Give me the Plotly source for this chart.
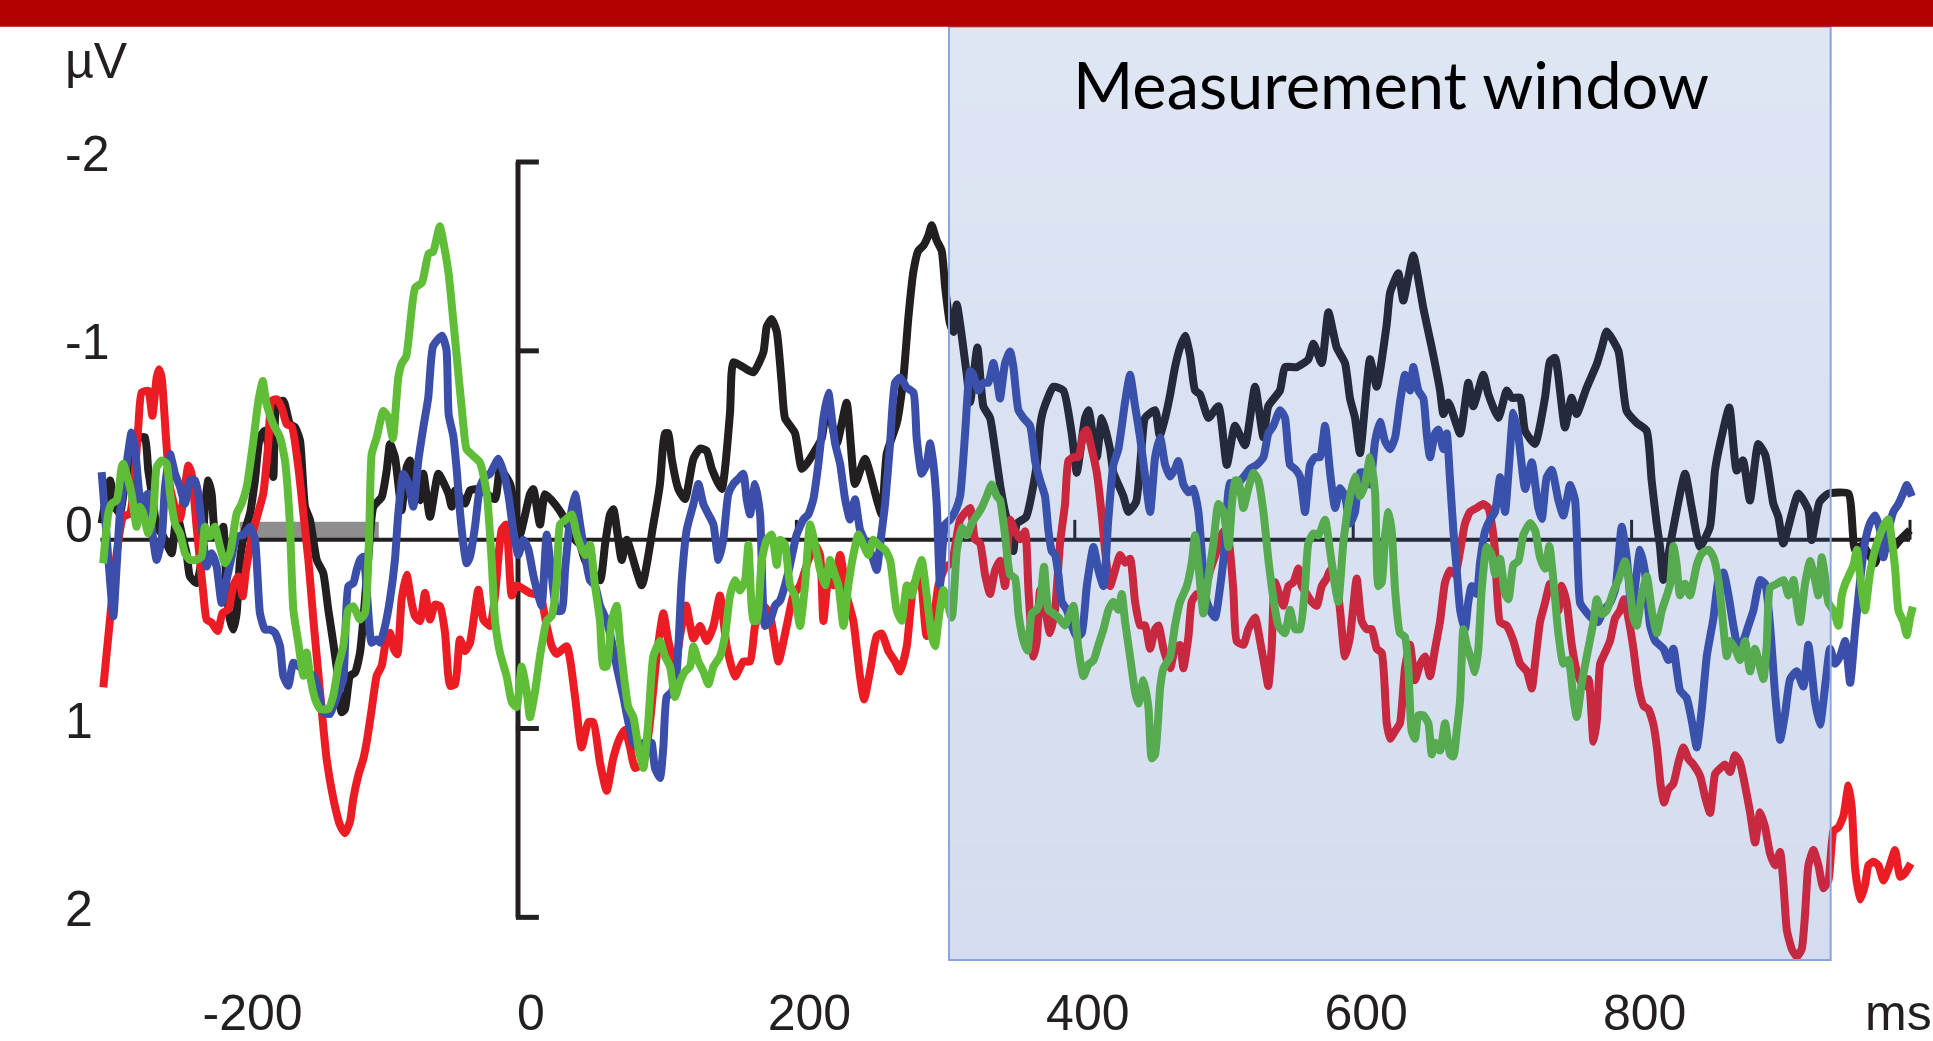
import plotly.graph_objects as go

# ---------------- data: time (ms), amplitude (µV, negative plotted up) ----------------
BLACK = [(-299.1,-0.086),(-293.1,-0.314),(-289.5,-0.174),(-286.0,-0.139),(-282.4,-0.296),(-278.8,-0.402),(-271.6,-0.542),(-268.0,-0.542),(-265.6,-0.367),(-262.0,-0.191),(-259.6,-0.068),(-256.0,-0.033),(-252.4,0.020),(-248.8,0.072),(-245.2,-0.139),(-241.6,-0.033),(-238.1,0.072),(-235.7,0.195),(-230.9,0.230),(-227.3,0.107),(-224.9,-0.174),(-222.5,-0.314),(-220.1,-0.244),(-217.7,-0.033),(-214.1,0.002),(-211.7,-0.068),(-209.3,0.265),(-206.9,0.423),(-204.5,0.476),(-202.1,0.388),(-199.7,0.107),(-196.1,-0.051),(-192.5,-0.139),(-189.0,-0.314),(-185.4,-0.542),(-181.8,-0.577),(-178.2,-0.437),(-175.8,-0.332),(-173.4,-0.717),(-168.6,-0.735),(-163.8,-0.612),(-160.2,-0.595),(-156.6,-0.525),(-153.0,-0.174),(-149.4,-0.103),(-144.6,0.107),(-139.9,0.177),(-136.3,0.370),(-132.7,0.546),(-129.1,0.739),(-126.7,0.914),(-124.3,0.897),(-120.7,0.721),(-117.1,0.704),(-113.5,0.598),(-111.1,0.423),(-107.5,0.090),(-103.9,-0.174),(-97.9,-0.226),(-94.3,-0.367),(-91.9,-0.507),(-88.4,-0.437),(-86.0,-0.296),(-83.6,-0.156),(-80.0,-0.384),(-77.6,-0.419),(-74.0,-0.279),(-70.4,-0.209),(-68.0,-0.349),(-63.2,-0.121),(-57.2,-0.349),(-50.0,-0.244),(-47.6,-0.174),(-45.2,-0.261),(-38.1,-0.191),(-34.5,-0.261),
    (-27.3,-0.268),(-16.5,-0.215),(-12.9,-0.375),(-5.7,-0.295),(-2.2,-0.161),(1.4,-0.027),(8.6,-0.241),(11.0,-0.268),(15.8,-0.080),(19.4,-0.241),(26.6,-0.188),(33.8,-0.107),(41.0,0.000),(44.6,0.027),(48.1,0.108),(58.9,0.215),(62.5,0.027),(66.1,-0.134),(68.5,-0.161),(74.5,0.108),(78.1,0.000),(88.9,0.242),(97.2,-0.080),(102.0,-0.295),(105.6,-0.563),(108.0,-0.563),(110.4,-0.429),(115.2,-0.268),(120.0,-0.215),(126.0,-0.429),(130.8,-0.483),(135.6,-0.470),(139.2,-0.376),(146.3,-0.268),(152.3,-0.671),(154.7,-0.940),(161.9,-0.913),(169.1,-0.886),(176.3,-0.993),(178.7,-1.128),(182.3,-1.168),(185.9,-1.101),(189.4,-0.832),(191.8,-0.644),(199.0,-0.564),(203.8,-0.375),(207.4,-0.402),(218.2,-0.537),(221.8,-0.725),(229.0,-0.510),(236.1,-0.725),(242.1,-0.295),(249.3,-0.429),(257.7,-0.215),(261.3,-0.134),(264.9,-0.456),(272.1,-0.617),(276.9,-0.859),(280.5,-1.181),(284.1,-1.423),(287.6,-1.530),(291.2,-1.557),(294.8,-1.611),(297.2,-1.665),(300.8,-1.584),(304.4,-1.530),(306.8,-1.342),
    (310.4,-1.142),(312.8,-1.100),(315.2,-1.246),(322.4,-0.873),(324.8,-0.728),(330.0,-1.018),(334.3,-0.707),(339.1,-0.645),(342.7,-0.479),(346.3,-0.292),(349.9,-0.147),(353.5,-0.044),(355.9,0.060),(358.3,-0.085),(365.0,-0.120),(372.7,-0.396),(375.1,-0.603),(377.4,-0.686),(384.6,-0.810),(391.8,-0.790),(397.8,-0.562),(401.4,-0.355),(407.4,-0.645),(409.8,-0.686),(415.8,-0.437),(419.4,-0.645),(425.3,-0.479),(427.7,-0.355),(431.3,-0.292),(434.9,-0.230),(438.5,-0.147),(444.0,-0.200),(448.1,-0.500),(450.5,-0.645),(457.7,-0.686),(461.0,-0.550),(464.9,-0.645),(468.5,-0.769),(472.0,-0.914),(475.6,-1.018),(479.2,-1.080),(482.8,-0.976),(486.4,-0.790),(490.0,-0.769),(496.0,-0.645),(503.2,-0.707),(509.2,-0.396),
    (515.1,-0.603),(522.3,-0.500),(529.5,-0.810),(535.5,-0.541),(539.0,-0.707),(547.4,-0.790),(551.0,-0.914),(559.4,-0.914),(567.8,-0.955),(571.4,-1.038),(577.4,-0.935),(582.2,-1.204),(588.1,-1.018),(594.1,-0.935),(597.7,-0.748),(601.3,-0.645),(604.9,-0.458),(612.1,-0.955),(616.9,-0.810),(624.1,-1.142),(626.5,-1.308),(632.4,-1.411),(636.0,-1.266),(639.6,-1.391),(643.2,-1.505),(650.4,-1.225),(656.4,-1.018),(662.4,-0.790),(664.8,-0.665),(668.4,-0.727),(676.8,-0.562),(682.7,-0.831),(686.3,-0.707),(693.5,-0.873),(697.1,-0.770),(704.3,-0.645),(710.3,-0.790),(714.0,-0.750),
    (719.8,-0.752),(723.4,-0.577),(730.6,-0.507),(737.8,-0.752),(741.4,-0.945),(745.0,-0.963),(752.1,-0.594),(756.9,-0.752),(760.5,-0.665),(767.7,-0.805),(774.9,-0.928),(778.5,-1.016),(782.1,-1.103),(790.5,-1.000),(796.4,-0.682),(803.5,-0.620),(810.8,-0.577),(814.4,-0.314),(818.0,-0.086),(820.4,0.037),(822.8,0.213),(828.8,-0.016),(838.4,-0.349),(843.1,-0.173),(849.1,0.037),(856.3,-0.068),(859.9,-0.366),(863.5,-0.507),(870.2,-0.700),(875.5,-0.366),(880.0,-0.420),(885.0,-0.208),(891.0,-0.507),(896.0,-0.450),(901.8,-0.191),(905.4,-0.121),(909.0,0.020),(919.8,-0.244),(927.0,-0.156),(929.4,0.002),(935.0,-0.200),(941.3,-0.244),(955.7,-0.244),(960.5,0.055),(966.0,0.030),(974.9,0.125),(980.0,-0.020),(987.0,0.050),(993.0,0.000),(1000.0,-0.051)]

RED = [(-297.9,0.782),(-293.6,0.458),(-288.8,0.100),(-283.6,-0.121),(-278.8,-0.139),(-272.8,-0.595),(-270.4,-0.779),(-265.6,-0.788),(-262.7,-0.656),(-259.6,-0.858),(-257.9,-0.902),(-256.0,-0.858),(-252.9,-0.542),(-250.0,-0.279),(-245.2,-0.139),(-242.8,-0.112),(-236.8,-0.393),(-234.5,-0.349),(-230.9,-0.068),(-226.1,0.282),(-223.7,0.423),(-220.1,0.440),(-215.8,0.484),(-212.2,0.388),(-208.1,0.370),(-204.5,0.247),(-200.9,0.195),(-197.8,0.300),(-195.4,0.160),(-190.1,-0.051),(-183.0,-0.244),(-179.4,-0.507),(-177.0,-0.735),(-173.4,-0.744),(-169.8,-0.700),(-166.2,-0.612),(-162.6,-0.600),(-157.8,-0.384),(-154.2,-0.139),(-150.6,0.107),(-147.0,0.423),(-142.2,0.809),(-137.5,1.160),(-132.7,1.370),(-127.9,1.511),(-124.3,1.554),(-120.7,1.493),(-118.3,1.370),(-114.7,1.247),(-111.1,1.160),(-108.7,1.072),(-105.1,0.897),(-101.5,0.721),(-97.9,0.668),(-95.5,0.563),(-92.0,0.493),(-89.1,0.581),(-86.7,0.607),(-83.6,0.318),(-80.0,0.186),(-76.4,0.335),(-74.0,0.405),(-70.4,0.432),(-66.8,0.282),(-63.2,0.423),(-59.6,0.344),(-56.0,0.353),(-52.4,0.493),(-48.8,0.774),(-45.2,0.765),(-41.7,0.528),(-38.1,0.590),(-34.5,0.546),(-28.5,0.265),(-24.9,0.423),
    (-20.1,0.457),(-16.5,0.296),(-11.7,-0.053),(-8.6,-0.080),(-4.5,0.296),(-1.0,0.242),(8.6,0.282),(15.8,0.296),(20.6,0.457),(24.2,0.564),(27.8,0.605),(35.0,0.564),(41.0,0.833),(45.7,1.101),(50.5,0.967),(54.1,0.967),(58.9,1.182),(63.7,1.330),(68.5,1.155),(73.3,1.048),(76.9,1.007),(80.5,1.101),(84.1,1.209),(90.1,1.182),(94.8,0.967),(99.6,0.618),(104.4,0.390),(108.0,0.537),(112.8,0.672),(116.4,0.510),(120.7,0.349),(126.0,0.524),(130.8,0.457),(135.6,0.537),(140.4,0.457),(145.1,0.296),(149.9,0.564),(155.9,0.725),(161.9,0.645),(166.7,0.645),(170.3,0.457),(176.3,0.349),(181.1,0.403),(187.1,0.645),(193.0,0.457),(197.8,0.296),(202.6,0.242),(208.6,0.108),(213.4,0.027),(217.0,0.081),(219.4,0.430),(223.0,0.215),(226.6,0.242),(231.4,0.081),(236.1,0.296),(240.9,0.430),(245.7,0.725),(248.6,0.846),(252.9,0.698),(257.7,0.510),(261.3,0.497),(266.1,0.591),(270.9,0.645),(274.5,0.698),(279.3,0.564),(284.1,0.242),(288.8,0.188),(293.6,0.510),(298.4,0.430),(302.0,0.242),(306.8,0.148),
    (311.6,0.122),(317.6,-0.106),(324.8,-0.168),(328.3,-0.002),(331.9,0.018),(335.5,0.184),(339.1,0.288),(342.7,0.163),(346.3,0.112),(349.9,0.246),(353.5,-0.106),(357.1,-0.044),(360.7,-0.002),(364.3,-0.044),(366.7,0.267),(370.3,0.619),(372.7,0.537),(375.1,0.267),(378.6,0.371),(382.2,0.495),(385.8,0.371),(389.4,0.018),(393.0,-0.189),(395.4,-0.417),(399.0,-0.437),(402.6,-0.437),(406.2,-0.562),(408.6,-0.582),(412.2,-0.479),(415.8,-0.355),(419.4,-0.127),(421.8,0.060),(425.3,0.246),(428.9,0.163),(432.5,0.081),(436.1,0.122),(439.7,0.101),(443.3,0.329),(446.9,0.454),(450.5,0.454),(454.1,0.578),(457.7,0.474),(460.1,0.454),(463.7,0.578),(468.5,0.681),(472.0,0.578),(475.6,0.557),(478.0,0.681),(481.6,0.516),(484.0,0.329),(487.6,0.288),(492.4,0.288),(497.2,0.163),(502.0,0.060),(506.8,-0.044),(510.0,-0.020),
    (513.9,0.267),(516.3,0.537),(521.1,0.557),(524.7,0.474),(529.5,0.412),(533.1,0.537),(536.6,0.681),(539.0,0.775),(541.4,0.578),(543.8,0.226),(549.8,0.350),(553.4,0.246),(557.0,0.226),(560.6,0.153),(563.0,0.246),(566.6,0.288),(570.2,0.329),(573.8,0.350),(577.4,0.246),(581.0,0.205),(583.4,0.163),(587.0,0.184),(590.5,0.371),(594.1,0.619),(597.7,0.516),(602.5,0.205),(606.1,0.433),(609.7,0.474),(613.3,0.474),(616.9,0.578),(620.5,0.599),(624.1,0.972),(626.5,1.054),(630.1,1.013),(633.6,0.972),(637.2,0.681),(640.8,0.557),(644.4,0.744),(648.0,0.661),(651.6,0.619),(655.2,0.723),(658.8,0.578),(662.4,0.433),(666.0,0.226),(669.6,0.163),(673.2,0.184),(676.8,0.060),(680.3,-0.085),(683.9,-0.147),(688.7,-0.168),(693.5,-0.189),(697.1,-0.168),(699.5,-0.085),(701.9,0.060),
    (705.5,0.436),(710.3,0.456),(715.1,0.536),(719.9,0.657),(724.7,0.697),(728.3,0.788),(730.6,0.657),(734.2,0.436),(737.8,0.335),(741.4,0.234),(745.0,0.295),(747.4,0.375),(749.8,0.244),(753.4,0.335),(757.0,0.557),(760.6,0.697),(765.4,0.778),(769.0,0.738),(772.6,1.070),(775.0,0.959),(777.4,0.657),(781.0,0.597),(784.5,0.536),(788.1,0.416),(791.7,0.375),(794.6,0.315),(797.7,0.416),(801.3,0.577),(804.9,0.778),(808.5,0.879),(812.1,0.899),(815.7,0.980),(818.5,1.120),(820.9,1.302),(823.3,1.392),(826.4,1.322),(830.0,1.292),(833.6,1.181),(837.2,1.100),(840.8,1.161),(844.4,1.191),(849.2,1.251),(852.8,1.362),(856.4,1.447),(860.0,1.241),(863.6,1.211),(867.2,1.191),(870.8,1.231),(874.3,1.141),(877.9,1.181),(881.5,1.302),(885.1,1.443),(888.7,1.604),(892.3,1.443),(895.9,1.523),(899.5,1.664),(903.1,1.725),(906.7,1.654),(909.1,1.825),(911.5,2.067),(915.1,2.168),(918.7,2.208),(922.2,2.168),(924.6,1.986),(927.0,1.725),(930.6,1.644),(934.2,1.725),(937.8,1.846),(941.4,1.805),(945.0,1.543),(948.6,1.523),(952.2,1.463),(955.8,1.302),(958.2,1.423),(960.6,1.745),(964.2,1.906),(967.8,1.825),(970.1,1.725),(973.7,1.705),(977.3,1.725),(980.9,1.805),(984.5,1.745),(989.3,1.644),(992.9,1.785),(996.5,1.765),(1000.6,1.715)]

BLUE = [(-299.1,-0.358),(-294.3,0.100),(-290.7,0.405),(-288.4,0.150),(-286.0,-0.139),(-282.4,-0.332),(-277.6,-0.568),(-275.2,-0.490),(-272.8,-0.296),(-270.4,-0.139),(-268.0,-0.226),(-265.6,-0.244),(-263.2,-0.068),(-259.6,0.107),(-256.0,0.000),(-253.6,-0.279),(-250.0,-0.454),(-246.4,-0.349),(-242.8,-0.279),(-239.2,-0.191),(-235.7,-0.314),(-232.0,-0.314),(-229.7,-0.244),(-226.1,0.000),(-223.7,0.142),(-220.1,0.072),(-216.5,0.142),(-212.9,0.335),(-209.3,0.212),(-205.7,0.090),(-202.1,-0.016),(-197.3,-0.025),(-192.5,-0.068),(-188.9,0.002),(-185.4,0.388),(-181.8,0.476),(-178.2,0.476),(-174.6,0.493),(-171.0,0.563),(-168.6,0.721),(-165.0,0.774),(-161.4,0.651),(-157.8,0.668),(-154.2,0.686),(-150.6,0.704),(-147.0,0.721),(-143.4,0.791),(-139.9,0.914),(-135.1,0.923),(-129.1,0.809),(-125.5,0.739),(-121.9,0.247),(-118.3,0.230),(-115.9,0.160),(-113.5,0.107),(-111.1,0.090),(-108.2,0.318),(-105.1,0.546),(-101.5,0.528),(-99.1,0.546),(-95.5,0.458),(-92.0,0.318),(-88.4,0.107),(-86.0,-0.139),(-82.4,-0.349),(-78.8,-0.296),(-75.2,-0.174),(-71.6,-0.419),(-68.0,-0.595),(-64.5,-0.750),(-61.0,-1.025),(-54.6,-1.080),(-51.4,-1.007),(-49.8,-0.662),(-46.5,-0.550),(-44.0,-0.367),(-41.7,-0.150),(-39.3,0.019),(-36.9,0.125),(-34.5,0.090),(-30.9,-0.068),(-27.3,-0.279),(-24.0,-0.330),
    (-20.1,-0.349),(-14.1,-0.429),(-10.5,-0.360),(-7.0,-0.241),(-3.4,-0.050),(0.2,0.081),(3.8,0.000),(7.4,0.050),(11.0,0.188),(14.6,0.296),(17.0,0.349),(20.6,-0.027),(24.2,0.188),(27.8,0.376),(31.4,0.376),(33.8,0.161),(37.4,-0.107),(41.0,-0.241),(44.6,-0.080),(48.1,0.081),(51.7,0.215),(55.3,0.242),(58.9,0.349),(63.7,0.430),(67.3,0.537),(70.9,0.672),(75.7,0.833),(79.3,0.967),(82.9,1.075),(86.5,1.101),(90.1,1.075),(93.6,1.128),(96.0,1.075),(98.4,1.209),(102.0,1.262),(104.4,1.101),(106.8,0.833),(110.4,0.806),(114.0,0.698),(117.6,0.215),(121.2,-0.053),(126.0,-0.188),(129.6,-0.295),(133.2,-0.188),(136.8,-0.134),(140.4,-0.080),(144.0,0.108),(147.5,0.000),(151.1,-0.241),(154.7,-0.295),(158.3,-0.322),(161.9,-0.349),(164.3,-0.214),(166.7,-0.134),(170.3,-0.295),(173.9,-0.134),(177.5,0.457),(181.1,0.430),(184.7,0.349),(188.3,0.322),(191.8,0.242),(195.4,0.134),(200.2,-0.027),(205.0,-0.107),(208.6,-0.134),(212.2,-0.215),(215.8,-0.402),(219.4,-0.644),(223.0,-0.778),(225.4,-0.644),(227.8,-0.510),(231.4,-0.402),(235.0,-0.214),(238.5,-0.107),(242.1,-0.214),(245.7,-0.053),(250.5,0.027),(254.1,0.081),(257.7,0.161),(260.1,0.027),(263.7,-0.188),(267.3,-0.510),(270.9,-0.832),(274.5,-0.859),(279.3,-0.805),(284.1,-0.778),(286.4,-0.537),(290.0,-0.349),(293.6,-0.402),(296.0,-0.510),(298.4,-0.402),(300.8,-0.188),(303.2,0.242),(306.8,-0.080),
    (310.4,-0.106),(314.0,-0.150),(317.6,-0.230),(321.2,-0.562),(324.8,-0.893),(327.2,-0.872),(330.7,-0.790),(334.3,-0.831),(337.9,-0.831),(341.5,-0.935),(344.4,-0.831),(346.3,-0.748),(349.9,-0.935),(353.5,-0.997),(355.9,-0.914),(359.5,-0.686),(363.1,-0.645),(367.9,-0.603),(371.5,-0.417),(375.1,-0.313),(378.6,-0.230),(381.0,-0.050),(383.4,0.060),(385.8,0.080),(388.2,0.184),(390.6,0.329),(394.2,0.371),(397.8,0.454),(401.4,0.516),(405.0,0.495),(408.6,0.246),(413.4,0.039),(417.0,0.163),(420.6,0.246),(424.0,-0.100),(427.7,-0.396),(431.3,-0.479),(436.1,-0.728),(439.7,-0.873),(443.3,-0.707),(446.9,-0.541),(450.5,-0.334),(454.1,-0.147),(457.7,-0.437),(461.3,-0.541),(464.9,-0.396),(468.5,-0.334),(472.0,-0.375),(474.4,-0.417),(478.0,-0.292),(481.6,-0.251),(485.2,-0.270),(488.8,-0.147),(492.4,0.184),(494.8,0.329),(498.4,0.391),(500.8,0.412),(504.4,0.250),(508.0,0.018),
    (511.5,-0.300),(516.3,-0.292),(521.0,-0.330),(525.9,-0.375),(530.7,-0.396),(535.5,-0.437),(539.0,-0.562),(542.6,-0.603),(547.4,-0.686),(551.0,-0.645),(554.6,-0.396),(558.2,-0.375),(561.8,-0.334),(565.4,-0.147),(569.0,-0.396),(572.6,-0.437),(576.2,-0.437),(579.8,-0.603),(583.4,-0.355),(587.0,-0.168),(590.5,-0.272),(594.1,-0.230),(597.7,-0.085),(601.3,-0.147),(604.9,-0.355),(608.5,-0.355),(612.1,-0.292),(615.7,-0.520),(619.3,-0.624),(622.9,-0.520),(626.5,-0.479),(630.1,-0.541),(633.6,-0.727),(637.2,-0.873),(640.8,-0.790),(643.2,-0.914),(646.8,-0.790),(650.4,-0.748),(652.8,-0.562),(655.2,-0.437),(658.8,-0.562),(661.2,-0.583),(664.8,-0.479),(667.2,-0.562),(669.6,-0.313),(672.0,-0.044),(674.4,0.163),(676.8,0.371),(680.3,0.474),(682.7,0.329),(685.1,0.246),(688.7,0.288),(691.1,0.122),(694.7,-0.044),(698.3,-0.106),(701.9,-0.147),
    (705.5,-0.330),(709.1,-0.147),(712.0,-0.400),(715.1,-0.672),(718.7,-0.550),(723.5,-0.269),(728.3,-0.410),(733.0,-0.168),(735.5,-0.110),(739.0,-0.330),(742.6,-0.370),(747.4,-0.209),(751.0,-0.128),(755.8,-0.289),(759.4,-0.209),(763.0,0.335),(766.6,0.375),(771.4,0.416),(776.0,0.436),(779.7,0.375),(784.5,0.335),(788.5,0.255),(792.9,-0.068),(796.5,0.093),(800.1,0.375),(803.7,0.174),(806.1,0.053),(809.7,0.174),(813.3,0.456),(816.9,0.536),(822.9,0.577),(826.4,0.637),(830.0,0.577),(834.8,0.798),(839.6,0.839),(843.2,0.959),(846.8,1.100),(850.4,0.899),(854.0,0.617),(858.8,0.416),(862.4,0.214),(865.9,0.174),(869.6,0.295),(873.1,0.456),(876.7,0.577),(880.3,0.536),(883.9,0.456),(887.5,0.375),(892.3,0.214),(895.9,0.234),(899.5,0.456),(903.1,0.818),(906.7,1.060),(910.3,0.919),(913.9,0.738),(918.6,0.697),(923.4,0.778),(927.0,0.557),(931.8,0.859),(935.4,0.980),(939.0,0.778),(942.6,0.577),(946.2,0.657),(949.8,0.617),(953.4,0.537),(957.0,0.758),(960.6,0.476),(964.2,0.214),(967.7,0.013),(971.3,-0.088),(974.9,-0.128),(978.5,-0.050),(980.9,0.093),(984.5,-0.048),(988.1,-0.148),(991.7,-0.189),(995.3,-0.249),(997.7,-0.289),(1001.3,-0.229)]

GREEN = [(-298.0,0.125),(-294.3,-0.139),(-291.9,-0.191),(-288.3,-0.209),(-284.7,-0.384),(-283.6,-0.402),(-280.0,-0.314),(-277.6,-0.244),(-274.0,-0.068),(-271.6,-0.174),(-269.2,-0.139),(-265.6,-0.033),(-262.0,-0.139),(-259.6,-0.384),(-256.0,-0.419),(-252.4,-0.402),(-250.0,-0.244),(-246.4,-0.086),(-242.8,-0.033),(-239.2,0.072),(-235.7,0.107),(-230.9,0.107),(-227.3,0.090),(-224.9,-0.068),(-221.3,-0.016),(-217.7,-0.068),(-214.1,0.037),(-210.5,0.125),(-206.9,0.072),(-202.1,-0.139),(-198.5,-0.191),(-194.9,-0.279),(-190.1,-0.525),(-186.5,-0.735),(-183.4,-0.840),(-180.6,-0.717),(-175.8,-0.612),(-171.0,-0.542),(-167.4,-0.419),(-164.0,-0.100),(-161.4,0.370),(-157.8,0.546),(-154.2,0.721),(-151.8,0.598),(-149.4,0.721),(-145.8,0.844),(-142.2,0.897),(-136.3,0.897),(-132.7,0.826),(-129.1,0.668),(-125.5,0.563),(-121.9,0.370),(-118.3,0.353),(-113.5,0.423),(-109.9,0.388),(-107.0,0.000),(-105.1,-0.454),(-101.5,-0.542),(-96.7,-0.682),(-93.1,-0.647),(-89.9,-0.535),(-86.0,-0.860),(-83.5,-0.934),(-80.3,-0.970),(-73.9,-1.334),(-69.0,-1.361),(-64.2,-1.515),(-61.0,-1.524),(-56.2,-1.660),(-53.0,-1.551),(-49.8,-1.406),(-45.0,-1.043),(-40.2,-0.680),(-37.0,-0.480),(-32.2,-0.444),(-27.3,-0.408),(-22.5,-0.250),
    (-19.0,0.100),(-16.5,0.430),(-12.9,0.600),(-8.1,0.725),(-4.5,0.860),(-1.0,0.887),(2.6,0.672),(6.2,0.800),(8.6,0.940),(12.2,0.806),(15.8,0.618),(20.6,0.430),(24.2,0.403),(27.8,0.215),(30.2,-0.080),(34.4,-0.107),(38.6,-0.134),(42.2,-0.027),(44.6,0.027),(48.1,0.081),(51.7,0.027),(55.3,0.242),(58.9,0.430),(61.3,0.672),(63.7,0.672),(67.3,0.430),(70.9,0.350),(73.3,0.537),(75.7,0.699),(79.3,0.887),(82.9,0.940),(86.5,1.101),(90.1,1.209),(93.6,0.967),(97.2,0.618),(102.0,0.537),(105.6,0.618),(109.2,0.672),(112.8,0.833),(116.4,0.752),(120.0,0.698),(123.6,0.672),(126.0,0.564),(129.6,0.645),(133.2,0.699),(136.8,0.766),(140.4,0.672),(145.1,0.618),(148.7,0.510),(152.3,0.296),(155.9,0.215),(159.5,0.269),(163.1,0.215),(165.5,0.027),(169.1,0.430),(171.5,0.430),(175.1,0.108),(178.7,0.000),(182.3,-0.027),(185.9,0.134),(188.3,0.000),(191.8,0.027),(195.4,0.242),(198.9,0.296),(202.6,0.457),(206.2,0.242),(209.8,-0.080),(213.4,0.027),(217.0,0.161),(220.6,0.242),(224.2,0.108),(226.6,0.161),(230.2,0.242),(233.8,0.457),(237.3,0.242),(240.9,0.081),(244.5,-0.027),(248.1,0.027),(251.7,0.081),(255.3,0.000),(258.9,0.027),(263.7,0.054),(267.3,0.108),(272.1,0.376),(275.7,0.430),(279.3,0.242),(282.8,0.296),(286.4,0.188),(290.0,0.108),(293.6,0.296),(297.2,0.510),(299.6,0.564),(302.0,0.430),(305.6,0.267),
    (311.6,0.412),(315.2,0.060),(318.8,-0.064),(322.4,-0.023),(326.0,-0.085),(329.5,-0.127),(333.1,-0.168),(336.7,-0.230),(340.3,-0.292),(343.9,-0.230),(346.3,-0.209),(349.9,-0.023),(353.5,0.184),(357.1,0.205),(359.5,0.391),(363.1,0.536),(366.0,0.588),(369.1,0.391),(372.7,0.371),(375.1,0.329),(377.9,0.143),(381.0,0.371),(384.6,0.391),(388.2,0.412),(393.0,0.454),(395.4,0.412),(399.0,0.350),(402.6,0.578),(406.2,0.723),(409.8,0.661),(413.4,0.640),(417.0,0.557),(420.6,0.474),(424.2,0.371),(427.7,0.329),(431.3,0.371),(433.7,0.288),(436.1,0.433),(439.7,0.619),(443.3,0.806),(445.7,0.868),(449.3,0.744),(452.9,0.889),(455.3,1.158),(457.7,1.137),(461.3,0.785),(463.7,0.681),(468.5,0.619),(472.0,0.454),(475.6,0.329),(480.4,0.247),(484.0,0.122),(486.4,-0.023),(489.0,0.150),(492.4,0.391),(496.0,0.200),(499.6,0.018),(503.2,-0.189),(506.8,-0.150),(510.4,0.039),
    (513.0,-0.200),(515.1,-0.313),(517.5,-0.313),(521.1,-0.168),(524.7,-0.272),(528.3,-0.355),(531.9,-0.313),(535.5,-0.147),(539.0,0.101),(542.6,0.308),(546.2,0.454),(551.0,0.495),(554.6,0.371),(558.2,0.474),(561.8,0.474),(565.4,0.246),(567.8,0.018),(571.4,-0.033),(575.0,-0.023),(579.8,-0.106),(583.4,0.060),(587.0,0.246),(589.3,0.329),(592.9,0.018),(597.7,-0.230),(601.3,-0.334),(604.9,-0.230),(608.5,-0.292),(612.1,-0.437),(615.7,-0.250),(618.1,0.246),(620.5,0.226),(622.9,-0.023),(625.3,-0.147),(627.7,-0.044),(630.1,0.267),(633.6,0.495),(637.2,0.516),(639.6,0.681),(642.0,1.013),(644.4,1.054),(646.8,0.930),(650.4,0.930),(654.0,0.972),(656.4,1.137),(658.8,1.075),(662.4,1.117),(666.0,0.972),(669.6,1.137),(672.0,1.148),(674.4,1.013),(676.8,0.847),(679.1,0.474),(681.5,0.557),(685.1,0.640),(687.5,0.702),(689.9,0.578),(692.3,0.267),(695.9,0.039),(699.5,0.081),(701.9,0.184),(705.5,0.101),(709.1,0.288),
    (711.5,0.315),(715.1,0.134),(718.7,0.113),(722.3,-0.027),(727.1,-0.088),(730.7,-0.048),(734.2,0.093),(737.8,0.154),(740.9,0.033),(743.8,0.214),(747.4,0.496),(751.0,0.657),(754.6,0.637),(758.2,0.839),(760.6,0.939),(764.2,0.758),(767.8,0.617),(772.6,0.436),(775.0,0.315),(778.6,0.395),(782.1,0.375),(786.9,0.275),(790.5,0.214),(795.3,0.114),(797.7,0.194),(801.3,0.416),(803.7,0.456),(807.3,0.295),(810.9,0.194),(814.5,0.375),(818.1,0.496),(821.7,0.375),(825.3,0.295),(827.7,0.234),(830.0,0.033),(832.4,0.134),(834.8,0.295),(838.4,0.234),(842.0,0.295),(846.8,0.134),(850.4,0.073),(855.2,0.053),(858.8,0.093),(862.4,0.214),(864.8,0.375),(868.4,0.617),(870.8,0.536),(874.3,0.577),(877.9,0.637),(881.5,0.536),(885.1,0.697),(888.7,0.577),(891.1,0.637),(894.7,0.738),(897.1,0.557),(899.5,0.254),(904.3,0.234),(909.1,0.214),(912.7,0.295),(916.3,0.214),(918.7,0.335),(921.0,0.436),(924.6,0.234),(928.2,0.113),(931.8,0.214),(934.2,0.295),(936.6,0.093),(939.0,0.200),(941.4,0.335),(945.0,0.375),(948.6,0.456),(951.0,0.295),(953.4,0.234),(955.8,0.194),(959.4,0.134),(961.8,0.053),(964.2,0.194),(967.7,0.375),(971.3,0.174),(974.9,0.053),(978.5,-0.027),(982.1,-0.088),(984.5,-0.108),(986.9,0.000),(989.3,0.154),(991.7,0.375),(995.3,0.436),(997.7,0.506),(1000.0,0.416),(1002.0,0.355)]

X_TICKS = [-200, 0, 200, 400, 600, 800]
X_TICK_TEXT = ["-200", "0", "200", "400", "600", "800"]
X_UNIT = "ms"
Y_TICKS = [-2, -1, 0, 1, 2]
Y_TICK_TEXT = ["-2", "-1", "0", "1", "2"]
Y_UNIT = "µV"
ZERO_MARKS = [200, 400, 600, 800, 1000]
WINDOW = (309.6, 943.0)
BASELINE = (-200, -100)
EPOCH = (-300, 1000)

# ---------------- layout geometry ----------------
W, H = 1933, 1041
PLOT_H = 980
X0_PX, PX_PER_MS = 518.0, 1.392
Y0_PX, PX_PER_UV = 543.0, 190.0
x_range = [-X0_PX / PX_PER_MS, (W - X0_PX) / PX_PER_MS]
y_range = [(PLOT_H - Y0_PX) / PX_PER_UV, -Y0_PX / PX_PER_UV]

def uv_at(px):
    return (px - Y0_PX) / PX_PER_UV

INK = "#231F20"
FONT = "Liberation Sans, Arial, Helvetica, sans-serif"

fig = go.Figure()
series = [(BLACK, "#231F20"), (RED, "#EC1C24"), (BLUE, "#3B4FAA"), (GREEN, "#5FBD38")]
for pts, col in series:
    t, v = zip(*pts)
    fig.add_trace(go.Scatter(x=list(t), y=list(v), mode="lines",
                             line=dict(color=col, width=8, shape="spline", smoothing=0.5),
                             hoverinfo="skip", showlegend=False))

shapes = []
shapes.append(dict(type="rect", xref="x", yref="y", x0=BASELINE[0], x1=BASELINE[1], y0=0, y1=-0.095,
                   fillcolor="#8E8E8E", line=dict(width=0), layer="below"))
shapes.append(dict(type="line", xref="x", yref="y", x0=EPOCH[0], x1=EPOCH[1], y0=0, y1=0,
                   line=dict(color=INK, width=4), layer="below"))
for m in ZERO_MARKS:
    shapes.append(dict(type="line", xref="x", yref="y", x0=m, x1=m, y0=0, y1=-0.105,
                       line=dict(color=INK, width=3), layer="below"))
shapes.append(dict(type="line", xref="x", yref="y", x0=0, x1=0, y0=-2, y1=2,
                   line=dict(color=INK, width=5), layer="below"))
for yv in [-2, -1, 1, 2]:
    shapes.append(dict(type="line", xref="x", yref="y", x0=-1.5, x1=15, y0=yv, y1=yv,
                       line=dict(color=INK, width=5), layer="below"))

# measurement window: translucent blue overlay, slightly darker towards the bottom
BOX_TOP, BOX_BOT, N_BANDS = 27, 966, 24
for i in range(N_BANDS):
    p0 = BOX_TOP + round(i * (BOX_BOT - BOX_TOP) / N_BANDS)
    p1 = BOX_TOP + round((i + 1) * (BOX_BOT - BOX_TOP) / N_BANDS)
    a = 0.158 + 0.055 * (i + 0.5) / N_BANDS
    shapes.append(dict(type="rect", xref="x", yref="y", x0=WINDOW[0], x1=WINDOW[1],
                       y0=uv_at(p0), y1=uv_at(p1), fillcolor=f"rgba(52,93,180,{a:.4f})",
                       line=dict(width=0), layer="above"))
shapes.append(dict(type="rect", xref="x", yref="y", x0=WINDOW[0], x1=WINDOW[1],
                   y0=uv_at(BOX_TOP), y1=uv_at(BOX_BOT), fillcolor="rgba(0,0,0,0)",
                   line=dict(color="#8AA5DE", width=2), layer="above"))
shapes.append(dict(type="rect", xref="paper", yref="paper", x0=0, x1=1, y0=1 - 27 / PLOT_H, y1=1,
                   fillcolor="#B40000", line=dict(width=0), layer="above"))

# vertical pixel offsets of the value labels above their bracket ticks
LABEL_RAISE = [8, 9, 15, 8, 8]
annotations = []
for val, txt, up in zip(Y_TICKS, Y_TICK_TEXT, LABEL_RAISE):
    annotations.append(dict(x=63 / W, xref="paper", xanchor="left", y=val, yref="y", yanchor="middle",
                            yshift=up, text=txt, showarrow=False,
                            font=dict(family=FONT, size=50, color=INK)))
annotations.append(dict(x=63 / W, xref="paper", xanchor="left", y=uv_at(61), yref="y", yanchor="middle",
                        text=Y_UNIT, showarrow=False, font=dict(family=FONT, size=50, color=INK)))
annotations.append(dict(x=1, xref="paper", xanchor="right", y=-(1019 - PLOT_H) / PLOT_H, yref="paper",
                        yanchor="middle", text=X_UNIT, showarrow=False, borderpad=0,
                        font=dict(family=FONT, size=50, color=INK)))
annotations.append(dict(x=(WINDOW[0] + WINDOW[1]) / 2 + 0.5, xref="x", xanchor="center",
                        y=uv_at(85), yref="y", yanchor="middle",
                        text="Measurement window", showarrow=False,
                        font=dict(family="Lato, Open Sans, sans-serif", size=65, color="#000000")))

fig.update_layout(
    autosize=False, width=W, height=H, margin=dict(l=0, r=0, t=0, b=H - PLOT_H, pad=0),
    paper_bgcolor="white", plot_bgcolor="white",
    shapes=shapes, annotations=annotations, showlegend=False,
    xaxis=dict(range=x_range, showgrid=False, zeroline=False, showline=False, ticks="",
               tickmode="array", tickvals=X_TICKS, ticktext=X_TICK_TEXT,
               tickfont=dict(family=FONT, size=50, color=INK),
               ticklabelshift=13, ticklabelstandoff=5, fixedrange=True),
    yaxis=dict(range=y_range, showgrid=False, zeroline=False, showline=False, ticks="",
               showticklabels=False, fixedrange=True),
)

fig.write_html("out.html", config={"displayModeBar": False, "responsive": False},
               post_script="document.documentElement.style.overflow='hidden';"
                           "document.body.style.margin='0';document.body.style.overflow='hidden';")
